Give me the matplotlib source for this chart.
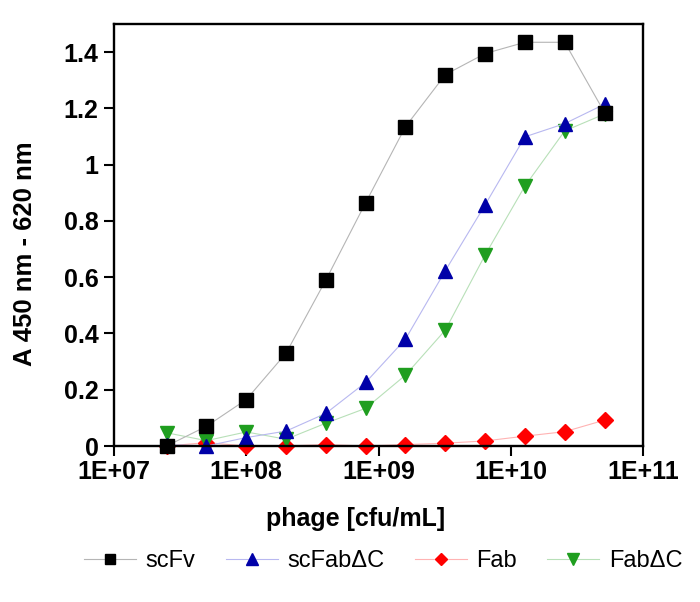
import matplotlib
matplotlib.use("Agg")
import matplotlib.pyplot as plt
from matplotlib.ticker import FuncFormatter

plt.rcParams['font.family'] = ['Liberation Sans', 'DejaVu Sans']

# phage concentration (cfu/mL), 2-fold dilution series
phage = [2.5e7, 5e7, 1e8, 2e8, 4e8, 8e8, 1.6e9, 3.2e9, 6.4e9, 1.28e10, 2.56e10, 5.12e10]

# A 450 nm - 620 nm
scfv = [0.00, 0.07, 0.165, 0.33, 0.59, 0.865, 1.135, 1.32, 1.395, 1.435, 1.435, 1.185]
scfab_dc = [0.005, 0.0, 0.03, 0.053, 0.116, 0.226, 0.38, 0.623, 0.857, 1.099, 1.146, 1.215]
fab = [0.0, 0.012, 0.0, 0.0, 0.005, 0.0, 0.005, 0.01, 0.018, 0.035, 0.051, 0.092]
fab_dc = [0.047, 0.019, 0.05, 0.024, 0.081, 0.134, 0.252, 0.412, 0.679, 0.924, 1.12, 1.18]

fig = plt.figure(figsize=(7, 6.02), dpi=100)
ax = fig.add_axes([114/700, 1-446/602, 529/700, 422/602])

# draw order: red, green, blue, black on top
l_fab, = ax.plot(phage, fab, color='#ffb3b3', lw=0.8, marker='D', ms=8,
                 mfc='#ff0000', mec='#ff0000', clip_on=False, label='Fab')
l_fabdc, = ax.plot(phage, fab_dc, color='#b8e0b8', lw=0.8, marker='v', ms=10,
                   mfc='#1f9e1f', mec='#1f9e1f', clip_on=False, label='FabΔC')
l_scfab, = ax.plot(phage, scfab_dc, color='#b8b8f0', lw=0.8, marker='^', ms=10,
                   mfc='#0000a8', mec='#0000a8', clip_on=False, label='scFabΔC')
l_scfv, = ax.plot(phage, scfv, color='#b5b5b5', lw=0.8, marker='s', ms=9.5,
                  mfc='black', mec='black', clip_on=False, label='scFv')

ax.set_xscale('log')
ax.set_xlim(1e7, 1e11)
ax.set_ylim(0, 1.5)
ax.set_xticks([1e7, 1e8, 1e9, 1e10, 1e11])
ax.set_xticklabels(['1E+07', '1E+08', '1E+09', '1E+10', '1E+11'])
ax.minorticks_off()
ax.set_yticks([0, 0.2, 0.4, 0.6, 0.8, 1.0, 1.2, 1.4])
ax.yaxis.set_major_formatter(FuncFormatter(lambda v, p: '%g' % round(v, 1)))

for s in ax.spines.values():
    s.set_linewidth(1.7)
ax.tick_params(axis='both', direction='out', length=7, width=1.5, labelsize=18)
ax.tick_params(axis='y', pad=4)
ax.tick_params(axis='x', pad=3)
for t in ax.get_xticklabels() + ax.get_yticklabels():
    t.set_fontweight('bold')

ax.set_xlabel('phage [cfu/mL]', fontsize=18, fontweight='bold')
ax.xaxis.set_label_coords(0.457, -0.145)
ax.set_ylabel('A 450 nm - 620 nm', fontsize=18.5, fontweight='bold')
ax.yaxis.set_label_coords(-0.146, 0.455)

fig.legend(handles=[l_scfv, l_scfab, l_fab, l_fabdc], loc='center',
           bbox_to_anchor=(383/700, 1-561/602), ncol=4, frameon=False,
           fontsize=17, handlelength=2.2, handletextpad=0.4,
           columnspacing=1.3, markerscale=0.8)

fig.savefig('out.png', dpi=100)
